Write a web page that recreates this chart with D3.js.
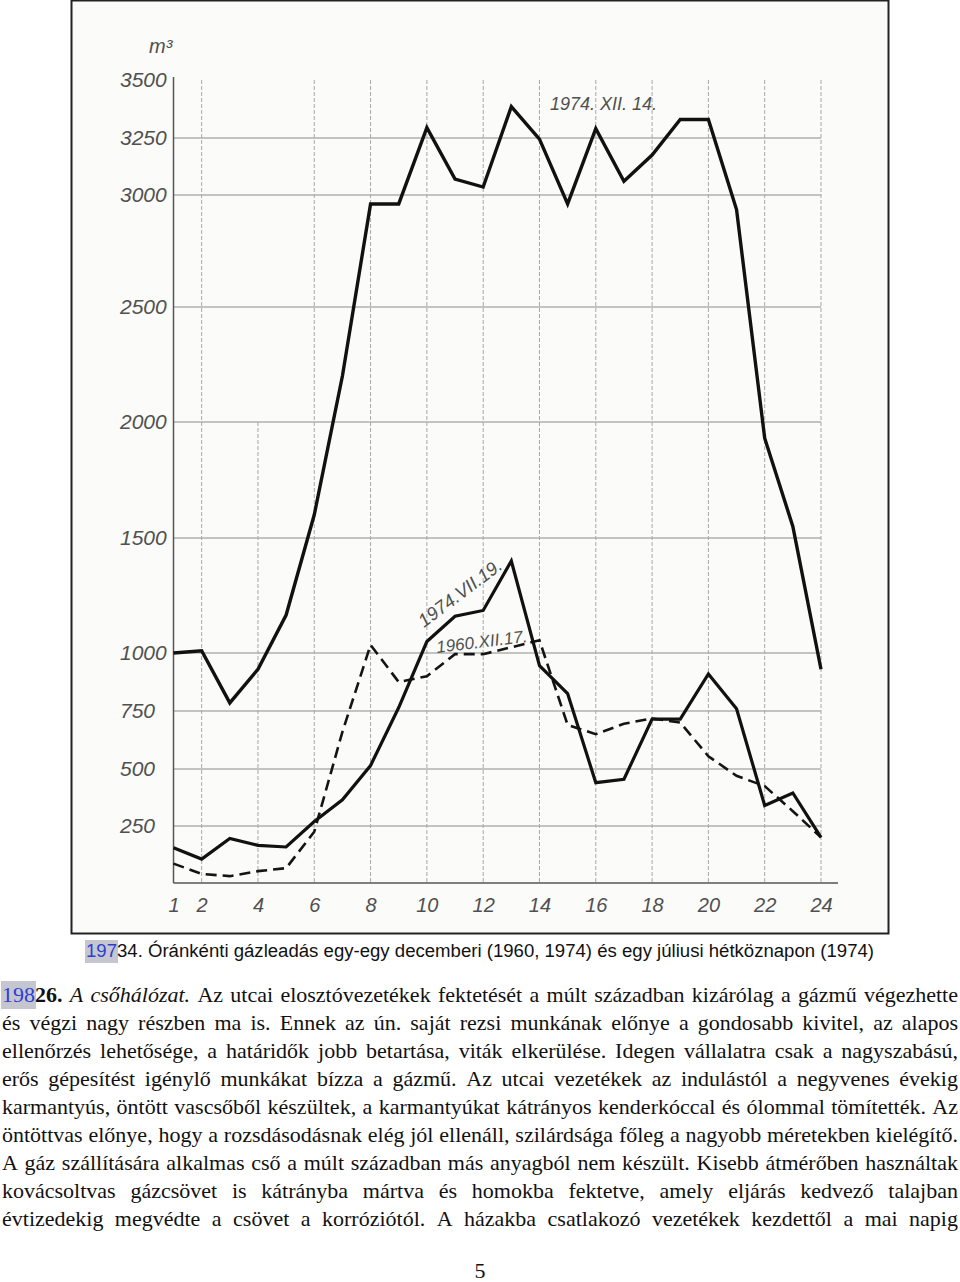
<!DOCTYPE html>
<html>
<head>
<meta charset="utf-8">
<script src="https://cdn.jsdelivr.net/npm/d3@7"></script>
<style>
html, body { margin: 0; padding: 0; background: #fff; }
svg { display: block; }
</style>
</head>
<body>
<svg id="page"></svg>
<script>
// Page size
const width = 960;
const height = 1282;

// Hours of the day (x axis) and tick labels
const hours = [1, 2, 3, 4, 5, 6, 7, 8, 9, 10, 11, 12, 13, 14, 15, 16, 17, 18, 19, 20, 21, 22, 23, 24];
const hourTicks = [1, 2, 4, 6, 8, 10, 12, 14, 16, 18, 20, 22, 24];
const gridHours = [2, 6, 8, 10, 12, 14, 16, 18, 20, 22, 24];
const partialGridHour = 4;

// m3 values (y axis)
const valueTicks = [250, 500, 750, 1000, 1500, 2000, 2500, 3000, 3250, 3500];
const gridValues = [250, 500, 750, 1000, 1500, 2000, 2500, 3000, 3250];

// Hourly gas output
const dec1974 = [1000, 1010, 785, 930, 1165, 1600, 2200, 2960, 2960, 3295, 3070, 3035, 3385, 3245, 2960, 3290, 3060, 3175, 3330, 3330, 2935, 1930, 1550, 930];
const jul1974 = [155, 105, 195, 165, 158, 270, 365, 515, 765, 1050, 1160, 1185, 1400, 945, 825, 440, 455, 715, 715, 910, 760, 340, 395, 200];
const dec1960 = [85, 40, 30, 52, 65, 225, 660, 1035, 875, 900, 995, 995, 1025, 1055, 690, 650, 695, 718, 700, 555, 470, 425, 315, 200];

const captionText = "34. Óránkénti gázleadás egy-egy decemberi (1960, 1974) és egy júliusi hétköznapon (1974)";

// Body text, one entry per printed line
const bodyLines = [
    "A csőhálózat. Az utcai elosztóvezetékek fektetését a múlt században kizárólag a gázmű végezhette",
    "és végzi nagy részben ma is. Ennek az ún. saját rezsi munkának előnye a gondosabb kivitel, az alapos",
    "ellenőrzés lehetősége, a határidők jobb betartása, viták elkerülése. Idegen vállalatra csak a nagyszabású,",
    "erős gépesítést igénylő munkákat bízza a gázmű. Az utcai vezetékek az indulástól a negyvenes évekig",
    "karmantyús, öntött vascsőből készültek, a karmantyúkat kátrányos kenderkóccal és ólommal tömítették. Az",
    "öntöttvas előnye, hogy a rozsdásodásnak elég jól ellenáll, szilárdsága főleg a nagyobb méretekben kielégítő.",
    "A gáz szállítására alkalmas cső a múlt században más anyagból nem készült. Kisebb átmérőben használtak",
    "kovácsoltvas gázcsövet is kátrányba mártva és homokba fektetve, amely eljárás kedvező talajban",
    "évtizedekig megvédte a csövet a korróziótól. A házakba csatlakozó vezetékek kezdettől a mai napig"
];

const svg = d3.select("#page")
    .attr("width", width)
    .attr("height", height);

const handFont = "'Liberation Sans', Arial, sans-serif";
const serifFont = "'Liberation Serif', 'Times New Roman', serif";

// Scanned chart frame
svg.append("rect")
    .attr("x", 71.5).attr("y", 0.5)
    .attr("width", 817).attr("height", 933)
    .attr("fill", "#fbfbf9")
    .attr("stroke", "#222")
    .attr("stroke-width", 2);

// grey boxes behind the blue page markers go here, under the text
const highlights = svg.append("g");

// Scales (the drawn scale is slightly compressed at the top)
const x = d3.scaleLinear()
    .domain([1, 24])
    .range([173.5, 821]);

const y = d3.scaleLinear()
    .domain([0, 250, 500, 750, 1000, 1500, 2000, 2500, 3000, 3250, 3500])
    .range([883, 826, 769, 711, 653, 538, 422, 307, 195, 138, 80]);

const chart = svg.append("g");

// Grid
chart.append("g")
    .selectAll("line")
    .data(gridValues)
    .join("line")
    .attr("x1", x(1)).attr("x2", x(24))
    .attr("y1", d => y(d)).attr("y2", d => y(d))
    .attr("stroke", "#8c8c8c")
    .attr("stroke-width", 1.1);

chart.append("g")
    .selectAll("line")
    .data(gridHours)
    .join("line")
    .attr("x1", d => x(d)).attr("x2", d => x(d))
    .attr("y1", 80).attr("y2", y(0))
    .attr("stroke", "#a8a8a8")
    .attr("stroke-width", 1)
    .attr("stroke-dasharray", "4,2");

chart.append("line")
    .attr("x1", x(partialGridHour)).attr("x2", x(partialGridHour))
    .attr("y1", y(2000)).attr("y2", y(0))
    .attr("stroke", "#a8a8a8")
    .attr("stroke-width", 1)
    .attr("stroke-dasharray", "4,2");

// Axis lines
chart.append("line")
    .attr("x1", x(1)).attr("x2", x(1))
    .attr("y1", 77).attr("y2", y(0))
    .attr("stroke", "#555").attr("stroke-width", 1.5);

chart.append("line")
    .attr("x1", x(1)).attr("x2", 838)
    .attr("y1", y(0)).attr("y2", y(0))
    .attr("stroke", "#555").attr("stroke-width", 1.5);

// Y axis labels
const yAxis = chart.append("g")
    .attr("transform", `translate(${x(1)},0)`)
    .call(d3.axisLeft(y).tickValues(valueTicks).tickSize(0).tickFormat(d3.format("d")));
yAxis.select(".domain").remove();
yAxis.selectAll("text")
    .attr("x", 120 - x(1))
    .attr("text-anchor", "start")
    .attr("font-family", handFont)
    .attr("font-style", "italic")
    .attr("font-size", 21)
    .attr("fill", "#505050");

// X axis labels
const xAxis = chart.append("g")
    .attr("transform", `translate(0,${y(0)})`)
    .call(d3.axisBottom(x).tickValues(hourTicks).tickSize(0).tickFormat(d3.format("d")));
xAxis.select(".domain").remove();
xAxis.selectAll("text")
    .attr("y", 29)
    .attr("dy", 0)
    .attr("font-family", handFont)
    .attr("font-style", "italic")
    .attr("font-size", 20)
    .attr("fill", "#505050");

// Unit
chart.append("text")
    .attr("x", 149).attr("y", 53)
    .attr("font-family", handFont)
    .attr("font-style", "italic")
    .attr("font-size", 20)
    .attr("fill", "#505050")
    .text("m³");

// Series
const line = d3.line()
    .x((d, i) => x(hours[i]))
    .y(d => y(d));

chart.append("path")
    .datum(dec1960)
    .attr("d", line)
    .attr("fill", "none")
    .attr("stroke", "#141414")
    .attr("stroke-width", 2.6)
    .attr("stroke-dasharray", "11,6");

chart.append("path")
    .datum(jul1974)
    .attr("d", line)
    .attr("fill", "none")
    .attr("stroke", "#111")
    .attr("stroke-width", 3.2)
    .attr("stroke-linejoin", "miter");

chart.append("path")
    .datum(dec1974)
    .attr("d", line)
    .attr("fill", "none")
    .attr("stroke", "#111")
    .attr("stroke-width", 3.4)
    .attr("stroke-linejoin", "miter");

// Hand lettered series labels
chart.append("text")
    .attr("x", 550).attr("y", 110)
    .attr("font-family", handFont)
    .attr("font-style", "italic")
    .attr("font-size", 18)
    .attr("fill", "#505050")
    .text("1974. XII. 14.");

chart.append("text")
    .attr("transform", "translate(424,628) rotate(-37)")
    .attr("font-family", handFont)
    .attr("font-style", "italic")
    .attr("font-size", 18.5)
    .attr("fill", "#505050")
    .text("1974.VII.19.");

chart.append("text")
    .attr("transform", "translate(437,653) rotate(-7)")
    .attr("font-family", handFont)
    .attr("font-style", "italic")
    .attr("font-size", 17)
    .attr("fill", "#505050")
    .text("1960.XII.17.");

// Caption with the highlighted page marker
const caption = svg.append("text")
    .attr("x", 480).attr("y", 957)
    .attr("text-anchor", "middle")
    .attr("font-family", handFont)
    .attr("font-size", 18)
    .attr("textLength", 788)
    .attr("lengthAdjust", "spacingAndGlyphs");
caption.append("tspan").attr("fill", "#2b3fd0").text("197");
caption.append("tspan").attr("fill", "#111").text(captionText);

function markChars(textNode, first, last, target) {
    const a = textNode.getExtentOfChar(first);
    const b = textNode.getExtentOfChar(last);
    target.append("rect")
        .attr("x", a.x - 1).attr("y", a.y - 1)
        .attr("width", b.x + b.width - a.x + 2)
        .attr("height", a.height + 3)
        .attr("fill", "#c6c6d0");
}
markChars(caption.node(), 0, 2, highlights);

// Justified body text (glyphs a little narrow, as in the print)
const textLeft = 2;
const textRight = 958;
const firstBaseline = 1002;
const lineStep = 28;
const bodySize = 22;

function toWords(spans) {
    const words = [[]];
    spans.forEach(s => {
        s.t.split(" ").forEach((p, k) => {
            if (k > 0) words.push([]);
            if (p) words[words.length - 1].push(Object.assign({}, s, { t: p }));
        });
    });
    return words.filter(w => w.length);
}

const lineSpans = bodyLines.map((txt, i) => {
    if (i === 0) {
        const rest = txt.replace("A csőhálózat.", "");
        return [
            { t: "198", mark: true },
            { t: "26.", b: true },
            { t: " " },
            { t: "A csőhálózat.", it: true },
            { t: rest }
        ];
    }
    return [{ t: txt }];
});

function addWord(parent, word) {
    const t = parent.append("text")
        .attr("font-family", serifFont)
        .attr("font-size", bodySize)
        .attr("fill", "#111");
    word.forEach(s => {
        t.append("tspan")
            .attr("font-weight", s.b ? "bold" : null)
            .attr("font-style", s.it ? "italic" : null)
            .attr("fill", s.mark ? "#2b3fd0" : null)
            .text(s.t);
    });
    return t;
}

// horizontal squeeze so the tightest line still fits with small spaces
const probe = svg.append("g");
const natural = lineSpans.map(sp => {
    const ws = toWords(sp);
    const total = d3.sum(ws, w => {
        const t = addWord(probe, w);
        const len = t.node().getComputedTextLength();
        t.remove();
        return len;
    });
    return total + (ws.length - 1) * bodySize * 0.16;
});
probe.remove();
const sx = Math.min(1, (textRight - textLeft) / d3.max(natural));
const localWidth = (textRight - textLeft) / sx;

const body = svg.append("g");
lineSpans.forEach((sp, i) => {
    const ws = toWords(sp);
    const g = body.append("g")
        .attr("transform", `translate(${textLeft},${firstBaseline + i * lineStep}) scale(${sx},1)`);
    const hl = g.append("g");
    const nodes = ws.map(w => addWord(g, w));
    const widths = nodes.map(n => n.node().getComputedTextLength());
    const gap = (localWidth - d3.sum(widths)) / (ws.length - 1);
    let cx = 0;
    nodes.forEach((n, k) => {
        n.attr("x", cx);
        cx += widths[k] + gap;
    });
    if (i === 0) markChars(nodes[0].node(), 0, 2, hl);
});

// Page number
svg.append("text")
    .attr("x", 480).attr("y", 1278)
    .attr("text-anchor", "middle")
    .attr("font-family", serifFont)
    .attr("font-size", 22)
    .attr("fill", "#111")
    .text("5");
</script>
</body>
</html>
